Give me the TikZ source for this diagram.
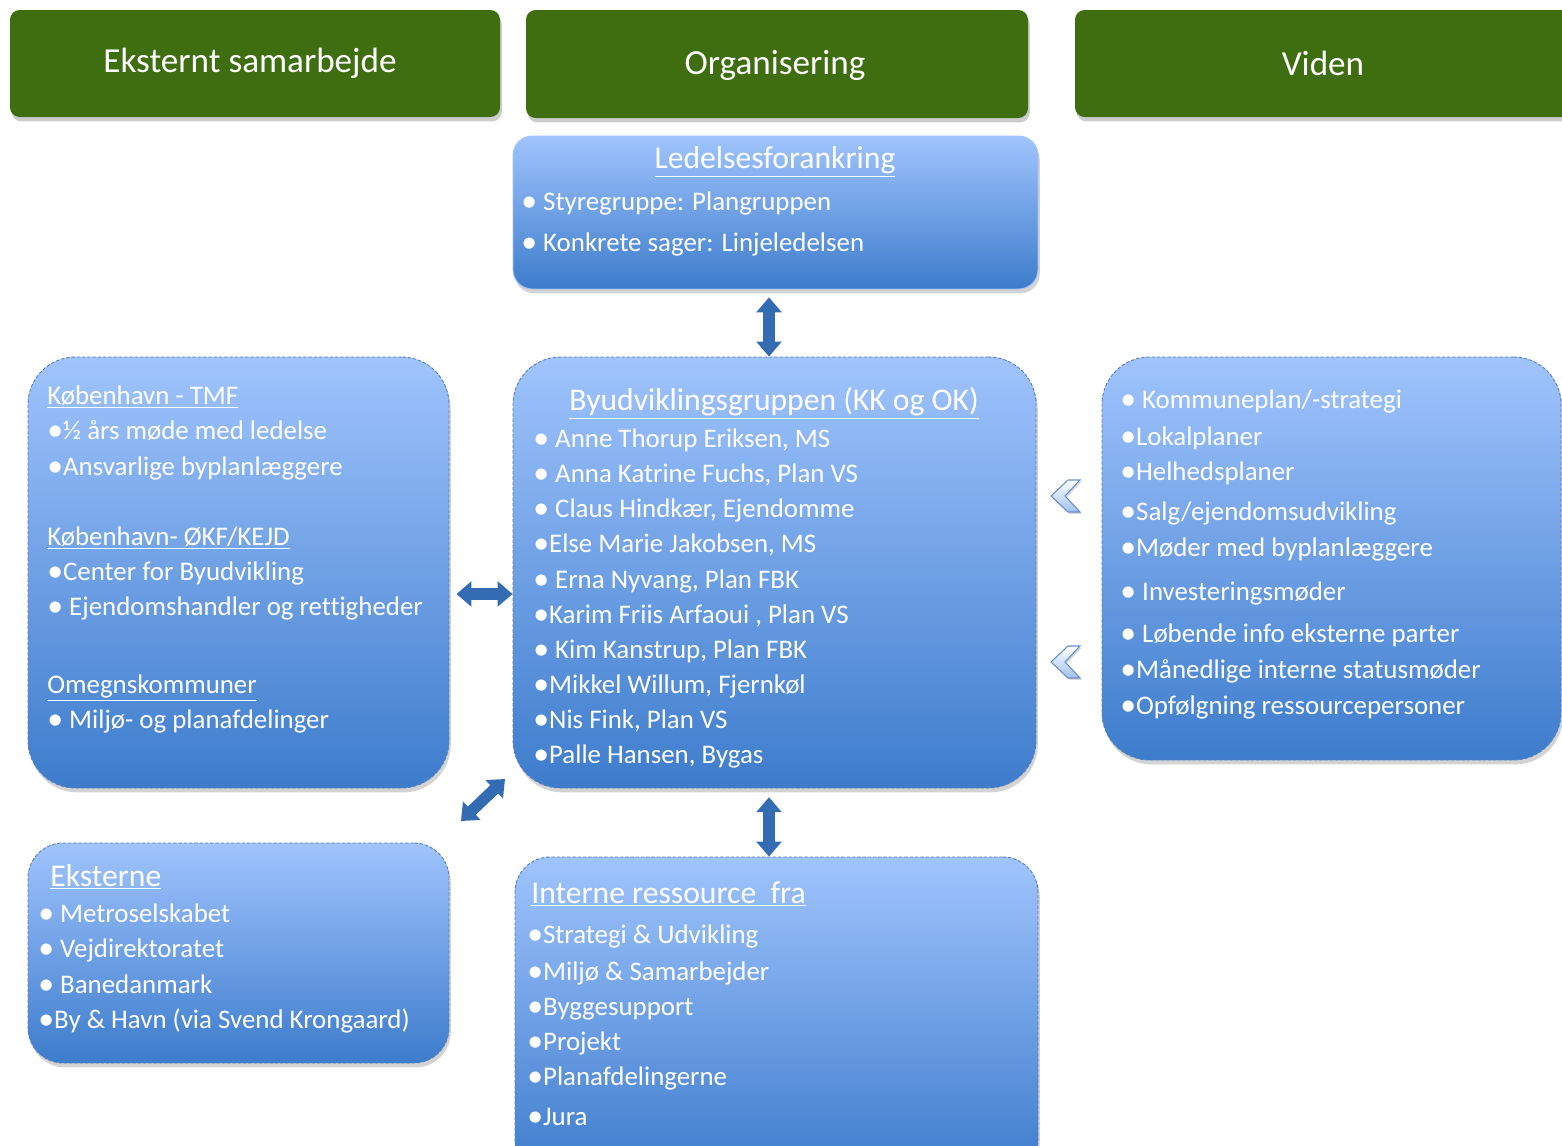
\documentclass[tikz,border=0pt]{standalone}
\usepackage{fontspec}
\setmainfont{Carlito}[Ligatures=NoCommon]
\usepackage{tikz}
\usetikzlibrary{
	arrows.meta,
	positioning,
	fit,
	shadows
}
\usepackage{xcolor}

\definecolor{headgreen}{RGB}{63,110,17}
\definecolor{boxtop}{RGB}{160,196,253}
\definecolor{boxbot}{RGB}{61,124,204}
\definecolor{boxline}{RGB}{86,126,188}
\definecolor{arrowblue}{RGB}{52,108,180}
\definecolor{chevfill}{RGB}{160,194,240}
\definecolor{chevline}{RGB}{100,142,205}

% bigger bullet
\newcommand{\bul}{\raisebox{-0.04em}{\scalebox{1.18}{•}}}

\begin{document}
\begin{tikzpicture}[
		x=0.02cm, y=-0.02cm,
		headbox/.style={fill=headgreen, rounded corners=5.5pt, inner sep=0pt,
			drop shadow={shadow xshift=1pt, shadow yshift=-2.5pt, opacity=0.4}},
		headtext/.style={text=white, inner sep=0pt, font=\fontsize{20}{24}\selectfont},
		bluebox/.style={draw=boxline, dash pattern=on 2pt off 1pt, line width=0.5pt,
			top color=boxtop, bottom color=boxbot, inner sep=0pt,
			drop shadow={shadow xshift=1pt, shadow yshift=-2.5pt, opacity=0.35}},
		itemline/.style={anchor=base west, inner sep=0pt, text=white,
			font=\fontsize{15.3}{18}\selectfont},
		titleline/.style={itemline, font=\fontsize{18}{21}\selectfont},
		dblarrow/.style={arrowblue, line width=6.5pt, >={Triangle[length=8.5pt,width=14pt]}, <->},
		chevron/.style={top color=white, bottom color=chevfill, draw=chevline, line width=0.6pt,
			line join=miter, drop shadow={shadow xshift=1pt, shadow yshift=-1pt, opacity=0.3}}
	]
	
	\useasboundingbox (0,0) rectangle (1562,1146);
	\clip (0,0) rectangle (1562,1146);
	
	% column headers
	\node[headbox, fit={(10,10) (500,117)}] (ekst) {};
	\node[headbox, fit={(526,10) (1028,118)}] (org) {};
	\node[headbox, fit={(1075,10) (1571,117)}] (viden) {};
	\node[headtext] (ekst-txt) at (250,63) {Eksternt samarbejde};
	\node[headtext] (org-txt) at (775,65) {Organisering};
	\node[headtext] (viden-txt) at (1323,63) {Viden};
	
	% Ledelsesforankring
	\node[bluebox, draw=boxtop, solid, rounded corners=11pt, fit={(513,136) (1038,289)}] (led) {};
	\node[titleline, anchor=base] (led-title) at (775,168) {\underline{Ledelsesforankring}};
	\foreach \y/\t [count=\i] in {
		210/{\bul{} Styregruppe: Plangruppen},
		251/{\bul{} Konkrete sager: Linjeledelsen}
	}
	\node[itemline] (led-\i) at (521,\y) {\t};
	
	% Byudviklingsgruppen
	\node[bluebox, rounded corners=27pt, fit={(513,357) (1036,788)}] (mid) {};
	\node[titleline, anchor=base] (mid-title) at (774,410) {\underline{Byudviklingsgruppen (KK og OK)}};
	\foreach \y/\t [count=\i] in {
		447/{\bul{} Anne Thorup Eriksen, MS},
		482/{\bul{} Anna Katrine Fuchs, Plan VS},
		517/{\bul{} Claus Hindkær, Ejendomme},
		552/{\bul{}Else Marie Jakobsen, MS},
		588/{\bul{} Erna Nyvang, Plan FBK},
		623/{\bul{}Karim Friis Arfaoui , Plan VS},
		658/{\bul{} Kim Kanstrup, Plan FBK},
		693/{\bul{}Mikkel Willum, Fjernkøl},
		728/{\bul{}Nis Fink, Plan VS},
		763/{\bul{}Palle Hansen, Bygas}
	}
	\node[itemline] (mid-\i) at (533,\y) {\t};
	
	% external partners
	\node[bluebox, rounded corners=27pt, fit={(28,357) (449,788)}] (left) {};
	\foreach \y/\t [count=\i] in {
		404/{\underline{København - TMF}},
		439/{\bul{}½ års møde med ledelse},
		475/{\bul{}Ansvarlige byplanlæggere},
		545/{\underline{København- ØKF/KEJD}},
		580/{\bul{}Center for Byudvikling},
		615/{\bul{} Ejendomshandler og rettigheder},
		693/{\underline{Omegnskommuner}},
		728/{\bul{} Miljø- og planafdelinger}
	}
	\node[itemline] (left-\i) at (47,\y) {\t};
	
	% knowledge
	\node[bluebox, rounded corners=27pt, fit={(1102,357) (1561,760)}] (right) {};
	\foreach \y/\t [count=\i] in {
		408/{\bul{} Kommuneplan/-strategi},
		445/{\bul{}Lokalplaner},
		480/{\bul{}Helhedsplaner},
		520/{\bul{}Salg/ejendomsudvikling},
		556/{\bul{}Møder med byplanlæggere},
		600/{\bul{} Investeringsmøder},
		642/{\bul{} Løbende info eksterne parter},
		678/{\bul{}Månedlige interne statusmøder},
		714/{\bul{}Opfølgning ressourcepersoner}
	}
	\node[itemline] (right-\i) at (1120,\y) {\t};
	
	% Eksterne
	\node[bluebox, rounded corners=20pt, fit={(28,843) (449,1063)}] (eks) {};
	\node[titleline] (eks-title) at (50,886) {\underline{Eksterne}};
	\foreach \y/\t [count=\i] in {
		922/{\bul{} Metroselskabet},
		957/{\bul{} Vejdirektoratet},
		993/{\bul{} Banedanmark},
		1028/{\bul{}By \& Havn (via Svend Krongaard)}
	}
	\node[itemline] (eks-\i) at (38,\y) {\t};
	
	% Interne ressourcer
	\node[bluebox, rounded corners=20pt, fit={(515,857) (1038,1175)}] (int) {};
	\node[titleline] (int-title) at (531,903) {\underline{Interne ressource\ \ fra}};
	\foreach \y/\t [count=\i] in {
		943/{\bul{}Strategi \& Udvikling},
		980/{\bul{}Miljø \& Samarbejder},
		1015/{\bul{}Byggesupport},
		1050/{\bul{}Projekt},
		1085/{\bul{}Planafdelingerne},
		1125/{\bul{}Jura}
	}
	\node[itemline] (int-\i) at (527,\y) {\t};
	
	% connectors
	\draw[dblarrow, shorten <=4.5pt] (led.south -| 769,0) -- (mid.north -| 769,0);
	\draw[dblarrow, shorten <=5pt] (mid.south -| 769,0) -- (int.north -| 769,0);
	\draw[dblarrow, shorten <=4pt] (left.east |- 0,594) -- (mid.west |- 0,594);
	\coordinate (diag-a) at (461,821);
	\coordinate (diag-b) at (505,779);
	\draw[dblarrow] (diag-a) -- (diag-b);
	
	% chevrons
	\foreach \c in {496,662}
	\draw[chevron] (1051,\c) -- (1068,\c-16) -- (1080,\c-16) -- (1065,\c) -- (1080,\c+16) -- (1068,\c+16) -- cycle;
	
\end{tikzpicture}
\end{document}
